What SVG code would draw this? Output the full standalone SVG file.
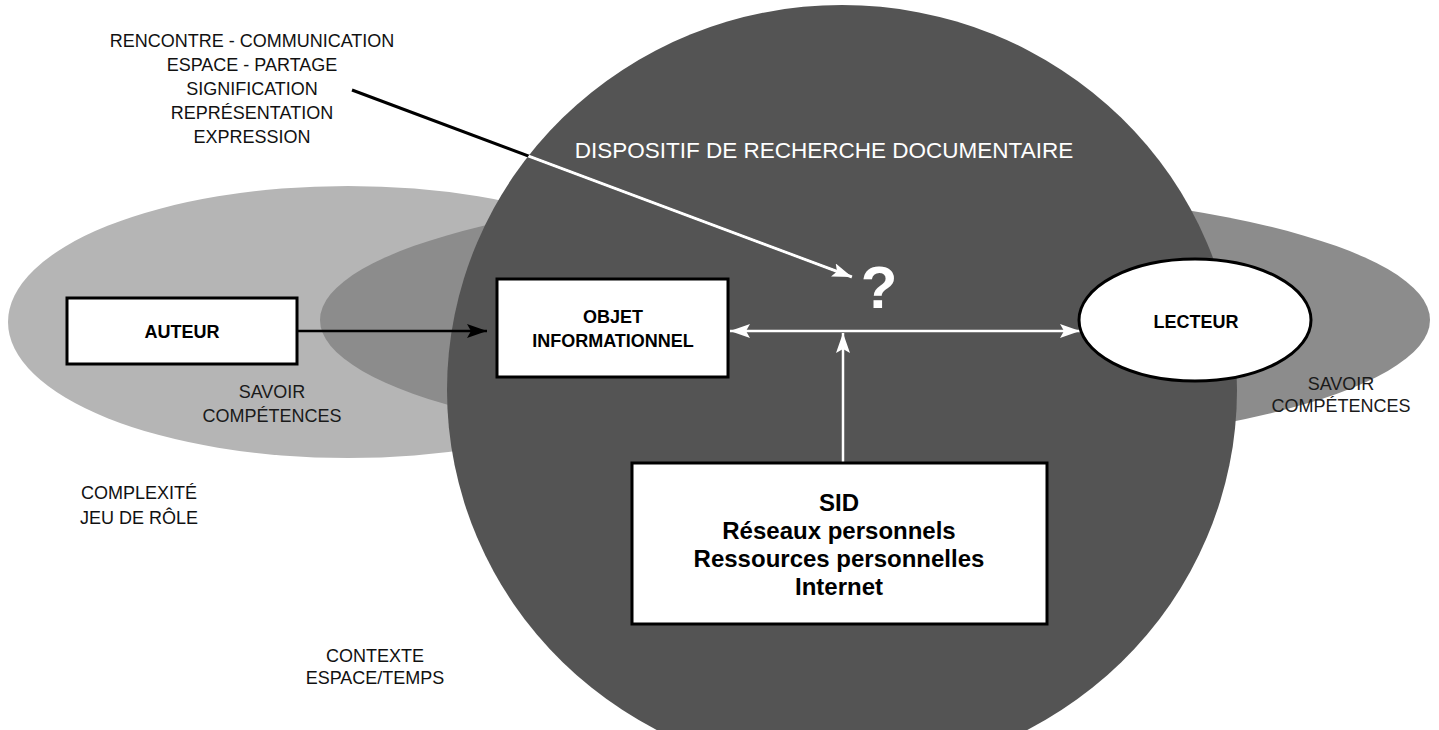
<svg xmlns="http://www.w3.org/2000/svg" width="1439" height="730" viewBox="0 0 1439 730">
<style>
  text { font-family: "Liberation Sans", Arial, Helvetica, sans-serif; }
  .lbl { font-size: 18px; fill: #111; text-anchor: middle; }
  .lbl-in { font-size: 18px; fill: #1a1a1a; text-anchor: middle; }
  .box { fill: #fff; stroke: #000; stroke-width: 3; }
  .ntxt { font-size: 18px; font-weight: bold; fill: #000; text-anchor: middle; }
  .big { font-size: 24px; font-weight: bold; fill: #000; text-anchor: middle; }
  .blk { stroke: #000; stroke-width: 2.5; fill: none; }
  .wht { stroke: #fff; stroke-width: 2.5; fill: none; }
  .ptr { stroke-width: 3; fill: none; }
</style>
<defs>
  <marker id="ah-black" markerUnits="userSpaceOnUse" markerWidth="22" markerHeight="14" refX="20" refY="7" orient="auto">
    <path d="M0,0 L20,7 L0,14 L4,7 z" fill="#000"/>
  </marker>
  <marker id="ah-white" markerUnits="userSpaceOnUse" markerWidth="22" markerHeight="14" refX="20" refY="7" orient="auto-start-reverse">
    <path d="M0,0 L20,7 L0,14 L4,7 z" fill="#fff"/>
  </marker>
  <clipPath id="circ-clip">
    <ellipse cx="842" cy="390" rx="395" ry="385"/>
  </clipPath>
</defs>

<g id="background">
  <ellipse id="ellipse-auteur" cx="348" cy="322" rx="340" ry="136" fill="#b5b5b5"/>
  <ellipse id="ellipse-lecteur" cx="875" cy="320" rx="555" ry="133" fill="#8c8c8c"/>
  <ellipse id="dispositif" cx="842" cy="390" rx="395" ry="385" fill="#545454"/>
</g>

<g id="labels">
  <text class="lbl" x="252" y="47">RENCONTRE - COMMUNICATION</text>
  <text class="lbl" x="252" y="71">ESPACE - PARTAGE</text>
  <text class="lbl" x="252" y="95">SIGNIFICATION</text>
  <text class="lbl" x="252" y="119">REPRÉSENTATION</text>
  <text class="lbl" x="252" y="143">EXPRESSION</text>
  <text x="824" y="158" font-size="22.5" fill="#fff" text-anchor="middle">DISPOSITIF DE RECHERCHE DOCUMENTAIRE</text>
  <text class="lbl-in" x="272" y="398">SAVOIR</text>
  <text class="lbl-in" x="272" y="422">COMPÉTENCES</text>
  <text class="lbl-in" x="1341" y="390">SAVOIR</text>
  <text class="lbl-in" x="1341" y="412">COMPÉTENCES</text>
  <text class="lbl" x="139" y="499">COMPLEXITÉ</text>
  <text class="lbl" x="139" y="524">JEU DE RÔLE</text>
  <text class="lbl" x="375" y="662">CONTEXTE</text>
  <text class="lbl" x="375" y="684">ESPACE/TEMPS</text>
</g>

<g id="connectors">
  <line class="blk" x1="297" y1="331" x2="487" y2="331" marker-end="url(#ah-black)"/>
  <line class="wht" x1="730" y1="331" x2="1080" y2="331" marker-start="url(#ah-white)" marker-end="url(#ah-white)"/>
  <line class="wht" x1="843" y1="463" x2="843" y2="333" marker-end="url(#ah-white)"/>
  <line class="ptr" stroke="#000" x1="352" y1="90" x2="852" y2="277"/>
  <line class="ptr" stroke="#fff" x1="352" y1="90" x2="852" y2="277" clip-path="url(#circ-clip)" marker-end="url(#ah-white)"/>
</g>

<g id="node-question">
  <text x="879" y="308" font-size="60" font-weight="bold" fill="#fff" text-anchor="middle">?</text>
</g>

<g id="node-auteur">
  <rect class="box" x="67" y="298" width="230" height="66"/>
  <text class="ntxt" x="182" y="338">AUTEUR</text>
</g>

<g id="node-objet">
  <rect class="box" x="497" y="279" width="231" height="98"/>
  <text class="ntxt" x="613" y="323">OBJET</text>
  <text class="ntxt" x="613" y="347">INFORMATIONNEL</text>
</g>

<g id="node-lecteur">
  <ellipse cx="1195" cy="320" rx="116" ry="61" fill="#fff" stroke="#000" stroke-width="3"/>
  <text class="ntxt" x="1196" y="328">LECTEUR</text>
</g>

<g id="node-sid">
  <rect class="box" x="632" y="463" width="415" height="161"/>
  <text class="big" x="839" y="511">SID</text>
  <text class="big" x="839" y="539">Réseaux personnels</text>
  <text class="big" x="839" y="567">Ressources personnelles</text>
  <text class="big" x="839" y="595">Internet</text>
</g>
</svg>
